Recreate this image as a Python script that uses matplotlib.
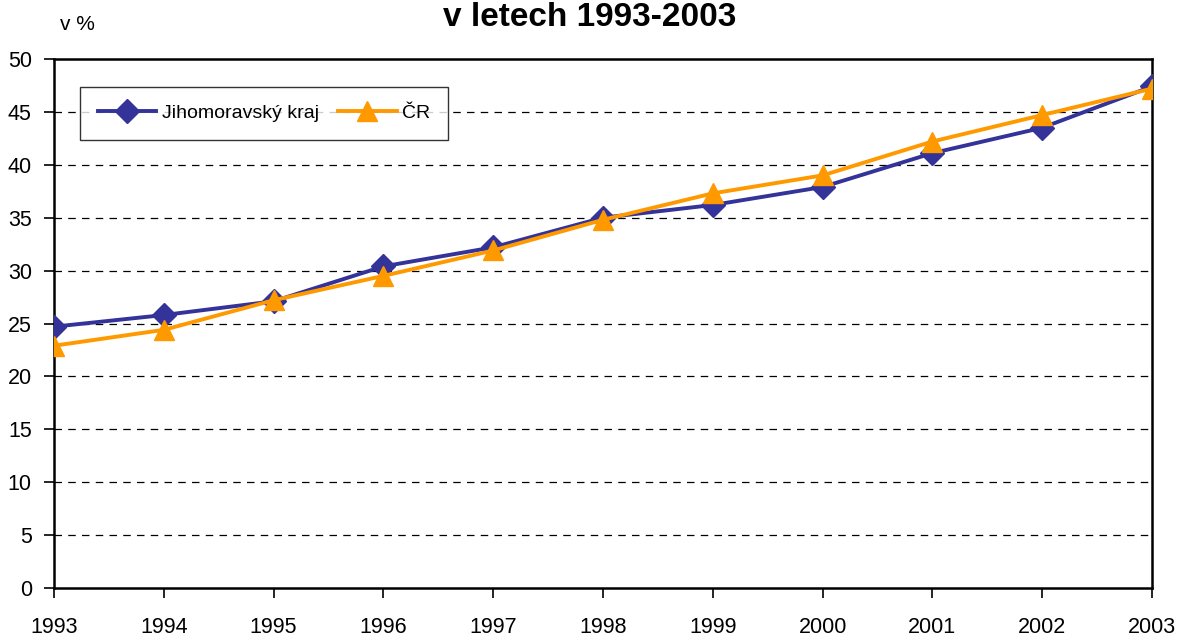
import matplotlib.pyplot as plt

years = [1993, 1994, 1995, 1996, 1997, 1998, 1999, 2000, 2001, 2002, 2003]
jihomoravsky = [24.7, 25.8, 27.1, 30.4, 32.2, 35.0, 36.2, 37.9, 41.1, 43.5, 47.4]
cr = [22.9, 24.4, 27.2, 29.5, 31.9, 34.8, 37.3, 39.0, 42.2, 44.7, 47.2]
y_ticks = list(range(0, 55, 5))

plt.rcParams['font.family'] = ['Liberation Sans', 'DejaVu Sans']

fig = plt.figure(figsize=(11.79, 6.37), dpi=100)
ax = fig.add_axes([0.0458, 0.0769, 0.9313, 0.8305])

ax.plot(years, jihomoravsky, color='#333399', lw=2.8, marker='D', ms=12.5,
        label='Jihomoravský kraj', zorder=3)
ax.plot(years, cr, color='#FF9900', lw=2.8, marker='^', ms=15,
        label='ČR', zorder=4)

ax.set_xlim(1993, 2003)
ax.set_ylim(0, 50)
ax.set_xticks(years)
ax.set_yticks(y_ticks)
ax.tick_params(labelsize=15.5, length=7, width=1.2, direction='out')
ax.tick_params(axis='x', pad=14)
ax.tick_params(axis='y', pad=9)
for y in y_ticks[1:-1]:
    ax.axhline(y, color='black', lw=0.9, ls=(0, (6, 5)), zorder=1)
for s in ax.spines.values():
    s.set_linewidth(1.8)
    s.set_clip_on(False)

leg = ax.legend(loc='upper left', bbox_to_anchor=(0.0237, 0.947), ncol=2,
                fontsize=14, frameon=True, fancybox=False, edgecolor='black',
                handlelength=3.0, columnspacing=1.0, borderpad=0.9,
                handletextpad=0.3, borderaxespad=0)
leg.get_frame().set_linewidth(1.0)

fig.text(0.5, 0.972, 'v letech 1993-2003', ha='center', va='center',
         fontsize=24, fontweight='bold')
fig.text(0.051, 0.962, 'v %', ha='left', va='center', fontsize=15)

plt.savefig('out.png')
